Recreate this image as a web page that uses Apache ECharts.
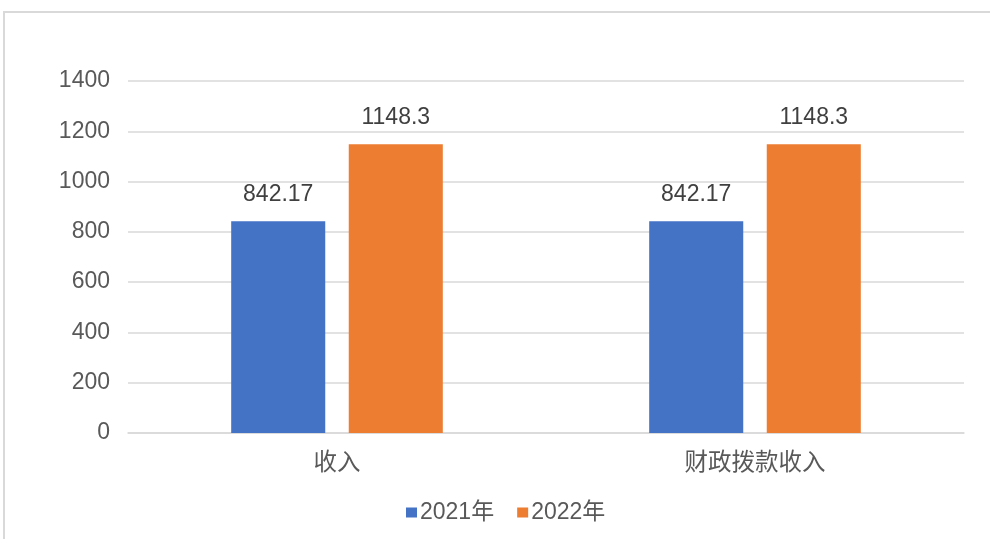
<!DOCTYPE html>
<html>
<head>
<meta charset="utf-8">
<style>
  html, body { margin: 0; padding: 0; background: #ffffff; }
  #chart { width: 990px; height: 539px; }
</style>
<script src="https://cdn.jsdelivr.net/npm/echarts@6/dist/echarts.min.js"></script>
</head>
<body>
<div id="chart"></div>
<script>
// Categories and yearly values
const categories = ['收入', '财政拨款收入'];
const values2021 = [842.17, 842.17];
const values2022 = [1148.3, 1148.3];
const seriesNames = ['2021年', '2022年'];

const FONT = '"Liberation Sans", Arial, "Noto Sans CJK SC", sans-serif';
const TEXT = '#595959';

const chart = echarts.init(document.getElementById('chart'), null, { renderer: 'canvas' });

chart.setOption({
  backgroundColor: '#ffffff',
  animation: false,
  textStyle: { fontFamily: FONT },
  graphic: [{
    type: 'rect',
    shape: { x: 4, y: 12, width: 1000, height: 540 },
    style: { fill: 'none', stroke: '#d9d9d9', lineWidth: 2 },
    silent: true,
    z: -1
  }],
  grid: { left: 128, right: 26, top: 81, bottom: 106, containLabel: false },
  legend: {
    data: seriesNames,
    top: 496,
    left: 401,
    icon: 'rect',
    itemWidth: 11,
    itemHeight: 10,
    itemGap: 23,
    textStyle: { color: TEXT, fontSize: 23, fontFamily: FONT, padding: [0, 0, 0, -2] }
  },
  xAxis: {
    type: 'category',
    data: categories,
    axisTick: { show: false },
    axisLine: { show: true, lineStyle: { color: '#d9d9d9', width: 1.5 } },
    axisLabel: { color: TEXT, fontSize: 23.5, margin: 19, fontFamily: FONT }
  },
  yAxis: {
    type: 'value',
    min: 0,
    max: 1400,
    interval: 200,
    axisLine: { show: false },
    axisTick: { show: false },
    axisLabel: { color: TEXT, fontSize: 23, margin: 18, fontFamily: FONT, formatter: v => String(v) },
    splitLine: { lineStyle: { color: '#d9d9d9', width: 1.5 } }
  },
  series: [
    {
      name: seriesNames[0],
      type: 'bar',
      data: values2021,
      barWidth: '22.5%',
      barGap: '25%',
      itemStyle: { color: '#4472c4' },
      label: { show: true, position: 'top', distance: 15, color: '#404040', fontSize: 23, fontFamily: FONT }
    },
    {
      name: seriesNames[1],
      type: 'bar',
      data: values2022,
      barWidth: '22.5%',
      itemStyle: { color: '#ed7d31' },
      label: { show: true, position: 'top', distance: 15, color: '#404040', fontSize: 23, fontFamily: FONT }
    }
  ]
});
</script>
</body>
</html>
